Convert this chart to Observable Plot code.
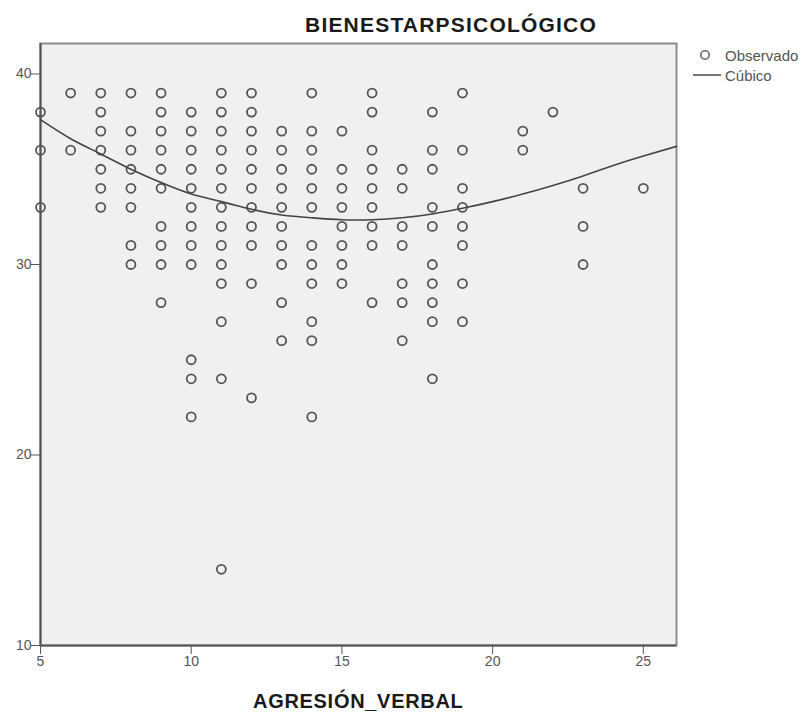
<!DOCTYPE html>
<html>
<head>
<meta charset="utf-8">
<script src="https://cdn.jsdelivr.net/npm/d3@7"></script>
<script src="https://cdn.jsdelivr.net/npm/@observablehq/plot@0.6"></script>
<style>
  body { margin: 0; background: #fff; font-family: "Liberation Sans", Arial, sans-serif; }
  #wrap { position: relative; width: 806px; height: 717px; }
  #title { position: absolute; left: 0; width: 902px; top: 14px; line-height: 1; text-align: center; font-weight: bold; font-size: 21px; letter-spacing: 1.2px; color: #1a1a1a; }
  #xlabel { position: absolute; left: 253px; top: 691px; line-height: 1; font-weight: bold; font-size: 20px; letter-spacing: 0.7px; color: #1a1a1a; }
  .leg { position: absolute; font-size: 15px; line-height: 1; color: #555; }
</style>
</head>
<body>
<div id="wrap">
  <div id="chart"></div>
  <div id="title">BIENESTARPSICOLÓGICO</div>
  <div id="xlabel">AGRESIÓN_VERBAL</div>
  <svg style="position:absolute;left:690px;top:45px" width="40" height="40">
    <circle cx="15" cy="10" r="4.2" fill="none" stroke="#666" stroke-width="1.6"></circle>
    <line x1="3" y1="30" x2="31" y2="30" stroke="#555" stroke-width="1.6"></line>
  </svg>
  <div class="leg" style="left:725px;top:48px">Observado</div>
  <div class="leg" style="left:725px;top:68px">Cúbico</div>
</div>
<script>
// Observed values: for each AGRESION_VERBAL value, the BIENESTAR values seen
const xValues = [5, 6, 7, 8, 9, 10, 11, 12, 13, 14, 15, 16, 17, 18, 19, 21, 22, 23, 25];
const yByX = [
  [38, 36, 33],
  [39, 36],
  [39, 38, 37, 36, 35, 34, 33],
  [39, 37, 36, 35, 34, 33, 31, 30],
  [39, 38, 37, 36, 35, 34, 32, 31, 30, 28],
  [38, 37, 36, 35, 34, 33, 32, 31, 30, 25, 24, 22],
  [39, 38, 37, 36, 35, 34, 33, 32, 31, 30, 29, 27, 24, 14],
  [39, 38, 37, 36, 35, 34, 33, 32, 31, 29, 23],
  [37, 36, 35, 34, 33, 32, 31, 30, 28, 26],
  [39, 37, 36, 35, 34, 33, 31, 30, 29, 27, 26, 22],
  [37, 35, 34, 33, 32, 31, 30, 29],
  [39, 38, 36, 35, 34, 33, 32, 31, 28],
  [35, 34, 32, 31, 29, 28, 26],
  [38, 36, 35, 33, 32, 30, 29, 28, 27, 24],
  [39, 36, 34, 33, 32, 31, 29, 27],
  [37, 36],
  [38],
  [34, 32, 30],
  [34]
];
// Cubic fit curve
const cubicX = [5, 6, 7, 8, 9, 10, 11, 12, 13, 14, 15, 16, 17, 18, 19, 20, 21, 22, 23, 24, 25, 26.1];
const cubicY = [37.6, 36.6, 35.8, 35.0, 34.3, 33.7, 33.3, 32.9, 32.6, 32.45, 32.35, 32.35, 32.45, 32.65, 32.95, 33.3, 33.7, 34.15, 34.65, 35.2, 35.7, 36.2];
const xTicks = [5, 10, 15, 20, 25];
const yTicks = [10, 20, 30, 40];

const observed = xValues.flatMap((x, i) => yByX[i].map(y => ({x, y})));
const cubic = cubicX.map((x, i) => ({x, y: cubicY[i]}));

const chart = Plot.plot({
  width: 806,
  height: 717,
  marginLeft: 40,
  marginRight: 130,
  marginTop: 43,
  marginBottom: 72,
  style: { fontFamily: "Liberation Sans, Arial, sans-serif", fontSize: "14px", color: "#555", background: "transparent" },
  x: { domain: [5, 26.1], label: null },
  y: { domain: [10, 41.6], label: null },
  marks: [
    Plot.frame({ fill: "#f0f0f0", stroke: "#8c8c8c", strokeWidth: 2 }),
    Plot.axisX({ ticks: xTicks, tickSize: 9, tickPadding: 2, stroke: "#555", fill: "#555", label: null }),
    Plot.axisY({ ticks: yTicks, tickSize: 9, tickPadding: 0, stroke: "#555", fill: "#555", label: null }),
    Plot.ruleY([10], { stroke: "#555", strokeWidth: 2 }),
    Plot.ruleX([5], { stroke: "#555", strokeWidth: 2 }),
    Plot.dot(observed, { x: "x", y: "y", r: 4.5, stroke: "#555", strokeWidth: 1.8, fill: "none" }),
    Plot.line(cubic, { x: "x", y: "y", stroke: "#444", strokeWidth: 1.6, curve: "natural" })
  ]
});
document.getElementById("chart").appendChild(chart);
</script>
</body>
</html>
